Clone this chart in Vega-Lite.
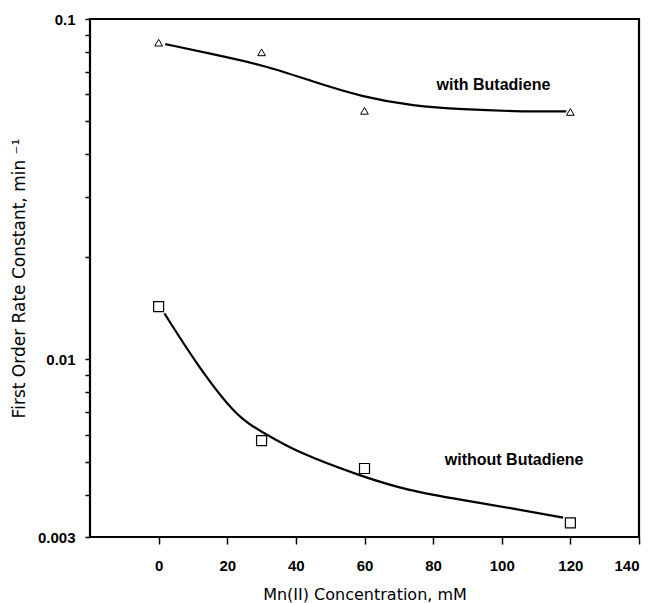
{
  "$schema": "https://vega.github.io/schema/vega-lite/v6.json",
  "width": 549,
  "height": 518,
  "autosize": {"type": "none"},
  "padding": {"left": 90, "top": 19, "right": 17, "bottom": 66},
  "background": "white",
  "config": {
    "view": {"stroke": "black", "strokeWidth": 2.2},
    "font": "Liberation Sans",
    "axis": {
      "labelFont": "Liberation Sans",
      "titleFont": "DejaVu Sans",
      "labelColor": "black",
      "titleColor": "black",
      "labelFontSize": 15,
      "labelFontWeight": "bold",
      "titleFontSize": 16,
      "titleFontWeight": "normal",
      "tickColor": "black",
      "tickWidth": 1.5,
      "domain": false,
      "grid": false
    }
  },
  "datasets": {
    "points": [
      {"series": "with", "x": 0, "k": 0.0852},
      {"series": "with", "x": 30, "k": 0.0798},
      {"series": "with", "x": 60, "k": 0.0537},
      {"series": "with", "x": 120, "k": 0.0533},
      {"series": "without", "x": 0, "k": 0.01426},
      {"series": "without", "x": 30, "k": 0.00576},
      {"series": "without", "x": 60, "k": 0.00477},
      {"series": "without", "x": 120, "k": 0.0033}
    ],
    "curves": [
      {"series": "with", "x": 1.9, "k": 0.0844},
      {"series": "with", "x": 16, "k": 0.0787},
      {"series": "with", "x": 30.5, "k": 0.0733},
      {"series": "with", "x": 45.1, "k": 0.0654},
      {"series": "with", "x": 59.6, "k": 0.0589},
      {"series": "with", "x": 74.2, "k": 0.0555},
      {"series": "with", "x": 88.8, "k": 0.0542},
      {"series": "with", "x": 103.3, "k": 0.0535},
      {"series": "with", "x": 118.8, "k": 0.0535},
      {"series": "without", "x": 1.7, "k": 0.01363},
      {"series": "without", "x": 10.9, "k": 0.00971},
      {"series": "without", "x": 23, "k": 0.0067},
      {"series": "without", "x": 30.3, "k": 0.00611},
      {"series": "without", "x": 40.1, "k": 0.00533},
      {"series": "without", "x": 59.5, "k": 0.00451},
      {"series": "without", "x": 72.2, "k": 0.00412},
      {"series": "without", "x": 88.7, "k": 0.00385},
      {"series": "without", "x": 103.3, "k": 0.00364},
      {"series": "without", "x": 117.9, "k": 0.00342}
    ],
    "labels": [
      {"x": 81, "k": 0.064, "text": "with Butadiene"},
      {"x": 83.4, "k": 0.00505, "text": "without Butadiene"}
    ]
  },
  "encoding": {
    "x": {
      "field": "x",
      "type": "quantitative",
      "scale": {"domain": [-20, 140], "nice": false, "zero": false},
      "axis": {
        "values": [0, 20, 40, 60, 80, 100, 120, 140],
        "title": "Mn(II) Concentration, mM",
        "tickSize": 7,
        "labelPadding": 14,
        "titlePadding": 13
      }
    },
    "y": {
      "field": "k",
      "type": "quantitative",
      "scale": {"type": "log", "domain": [0.003, 0.1], "nice": false},
      "axis": {
        "values": [0.003, 0.004, 0.005, 0.006, 0.007, 0.008, 0.009, 0.01, 0.02, 0.03, 0.04, 0.05, 0.06, 0.07, 0.08, 0.09, 0.1],
        "labelExpr": "datum.value == 0.1 ? '0.1' : datum.value == 0.01 ? '0.01' : datum.value == 0.003 ? '0.003' : ''",
        "title": "First Order Rate Constant, min ⁻¹",
        "titleFontSize": 17,
        "tickSize": 5,
        "labelPadding": 10,
        "titlePadding": 9
      }
    }
  },
  "layer": [
    {
      "data": {"name": "curves"},
      "mark": {"type": "line", "color": "black", "strokeWidth": 2.2, "interpolate": "basis"},
      "encoding": {"detail": {"field": "series"}}
    },
    {
      "data": {"name": "points"},
      "transform": [{"filter": "datum.series == 'with'"}],
      "mark": {"type": "point", "shape": "triangle-up", "filled": true, "fill": "white", "stroke": "black", "strokeWidth": 1, "size": 60, "opacity": 1}
    },
    {
      "data": {"name": "points"},
      "transform": [{"filter": "datum.series == 'without'"}],
      "mark": {"type": "point", "shape": "square", "filled": true, "fill": "white", "stroke": "black", "strokeWidth": 1.2, "size": 100, "opacity": 1}
    },
    {
      "data": {"name": "labels"},
      "mark": {"type": "text", "align": "left", "baseline": "middle", "font": "Liberation Sans", "fontSize": 16, "fontWeight": "bold", "color": "black"},
      "encoding": {"text": {"field": "text"}}
    }
  ]
}
